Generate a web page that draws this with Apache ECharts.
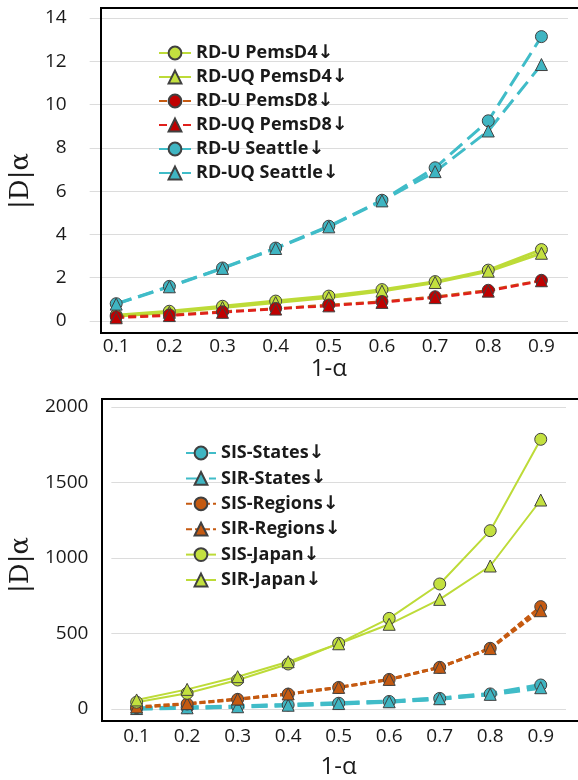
<!DOCTYPE html>
<html>
<head>
<meta charset="utf-8">
<script src="https://cdn.jsdelivr.net/npm/echarts@6/dist/echarts.min.js"></script>
<style>
  html, body { margin: 0; padding: 0; background: #fff; }
  #chart { width: 578px; height: 780px; }
</style>
</head>
<body>
<div id="chart"></div>
<script>
const alphas = ["0.1", "0.2", "0.3", "0.4", "0.5", "0.6", "0.7", "0.8", "0.9"];

// top panel
const rduPemsD4 = [0.27, 0.45, 0.68, 0.92, 1.15, 1.45, 1.82, 2.35, 3.3];
const rduqPemsD4 = [0.22, 0.4, 0.62, 0.85, 1.08, 1.38, 1.78, 2.3, 3.13];
const rduPemsD8 = [0.2, 0.28, 0.43, 0.58, 0.74, 0.9, 1.12, 1.42, 1.88];
const rduqPemsD8 = [0.15, 0.25, 0.4, 0.55, 0.7, 0.86, 1.08, 1.38, 1.86];
const rduSeattle = [0.8, 1.6, 2.45, 3.37, 4.38, 5.58, 7.08, 9.25, 13.14];
const rduqSeattle = [0.78, 1.58, 2.43, 3.35, 4.35, 5.55, 6.9, 8.78, 11.85];

// bottom panel
const sisStates = [4, 9, 17, 27, 38, 50, 70, 100, 159];
const sirStates = [3, 8, 15, 25, 36, 48, 68, 97, 141];
const sisRegions = [10, 33, 64, 99, 143, 196, 276, 402, 678];
const sirRegions = [14, 36, 66, 100, 143, 196, 276, 400, 651];
const sisJapan = [45, 104, 192, 298, 435, 600, 828, 1181, 1786];
const sirJapan = [60, 130, 214, 313, 432, 561, 726, 947, 1384];

const GREEN = "#bddb38", GREEN_M = "#c3e03f";
const RED = "#e0201c", RED_M = "#c00000";
const ORANGE = "#c55a11";
const CYAN = "#40bcc8", CYAN_M = "#3fb5c2";

const tickFont = { fontFamily: "Open Sans", fontSize: 19, color: "#1a1a1a" };

function line(name, data, idx, symbol, color, mColor, width, type) {
  return {
    name, type: "line", data,
    xAxisIndex: idx, yAxisIndex: idx,
    symbol, symbolSize: 12,
    lineStyle: { color, width, type },
    itemStyle: { color: mColor, borderColor: "#404040", borderWidth: 1 },
    emphasis: { disabled: true }
  };
}

const legendText = {
  fontFamily: "Open Sans", fontWeight: "bold", fontSize: 18, lineHeight: 20, color: "#1a1a1a",
  rich: { a: { fontFamily: "DejaVu Sans", fontWeight: "bold", fontSize: 19, lineHeight: 20, color: "#1a1a1a" } }
};
const arrowFmt = n => n.replace("↓", "{a|↓}");

const chart = echarts.init(document.getElementById("chart"));
chart.setOption({
  animation: false,
  grid: [
    { left: 88, right: 10, top: 18, bottom: 459 },
    { left: 109, right: 12, top: 407, bottom: 71 }
  ],
  xAxis: [0, 1].map(i => ({
    type: "category", gridIndex: i, data: alphas, boundaryGap: true,
    axisLine: { show: false }, axisTick: { show: false },
    axisLabel: Object.assign({ margin: i ? 18 : 16 }, tickFont),
    name: "1-α", nameLocation: "middle", nameGap: i ? 46 : 36,
    nameTextStyle: { fontFamily: "Open Sans", fontSize: 24, color: "#1a1a1a" }
  })),
  yAxis: [
    { max: 14, interval: 2 },
    { max: 2000, interval: 500 }
  ].map((o, i) => ({
    type: "value", gridIndex: i, min: 0, max: o.max, interval: o.interval,
    axisLine: { show: false }, axisTick: { show: false },
    axisLabel: Object.assign({ margin: 23, formatter: v => String(v) }, tickFont),
    splitLine: { lineStyle: { color: "#dcdcdc", width: 1 } },
    name: "|D|α", nameLocation: "middle", nameRotate: 90,
    nameGap: i ? 76 : 55,
    nameTextStyle: {
      fontFamily: "DejaVu Serif", fontSize: 26, color: "#1a1a1a",
      padding: i ? [0, 14, 0, 0] : [0, 23, 0, 0]
    }
  })),
  legend: [
    {
      orient: "vertical", left: 158, top: 43, padding: 0, itemWidth: 32, itemHeight: 16, itemGap: 4,
      textStyle: legendText, formatter: arrowFmt,
      data: ["RD-U PemsD4↓", "RD-UQ PemsD4↓", "RD-U PemsD8↓", "RD-UQ PemsD8↓", "RD-U Seattle↓", "RD-UQ Seattle↓"]
    },
    {
      orient: "vertical", left: 185, top: 443, padding: 0, itemWidth: 30, itemHeight: 16, itemGap: 5.4,
      textStyle: legendText, formatter: arrowFmt,
      data: ["SIS-States↓", "SIR-States↓", "SIS-Regions↓", "SIR-Regions↓", "SIS-Japan↓", "SIR-Japan↓"]
    }
  ],
  graphic: [
    { type: "rect", z: 1, shape: { x: 101, y: 8, width: 520, height: 325 }, style: { fill: null, stroke: "#000", lineWidth: 2 }, silent: true },
    { type: "rect", z: 1, shape: { x: 102, y: 399, width: 520, height: 322 }, style: { fill: null, stroke: "#000", lineWidth: 2 }, silent: true }
  ],
  series: [
    line("RD-U PemsD4↓", rduPemsD4, 0, "circle", GREEN, GREEN_M, 3, "solid"),
    line("RD-UQ PemsD4↓", rduqPemsD4, 0, "triangle", GREEN, GREEN_M, 3, "solid"),
    line("RD-U PemsD8↓", rduPemsD8, 0, "circle", ORANGE, RED_M, 2.5, [8, 4]),
    line("RD-UQ PemsD8↓", rduqPemsD8, 0, "triangle", RED, RED_M, 2.5, [8, 4]),
    line("RD-U Seattle↓", rduSeattle, 0, "circle", CYAN, CYAN_M, 3, [16, 7]),
    line("RD-UQ Seattle↓", rduqSeattle, 0, "triangle", CYAN, CYAN_M, 3, [16, 7]),
    line("SIS-States↓", sisStates, 1, "circle", CYAN, CYAN_M, 4, [16, 7]),
    line("SIR-States↓", sirStates, 1, "triangle", CYAN, CYAN_M, 4, [16, 7]),
    line("SIS-Regions↓", sisRegions, 1, "circle", ORANGE, ORANGE, 3, [6, 3]),
    line("SIR-Regions↓", sirRegions, 1, "triangle", ORANGE, ORANGE, 3, [6, 3]),
    line("SIS-Japan↓", sisJapan, 1, "circle", GREEN, GREEN_M, 2, "solid"),
    line("SIR-Japan↓", sirJapan, 1, "triangle", GREEN, GREEN_M, 2, "solid")
  ]
});
</script>
</body>
</html>
